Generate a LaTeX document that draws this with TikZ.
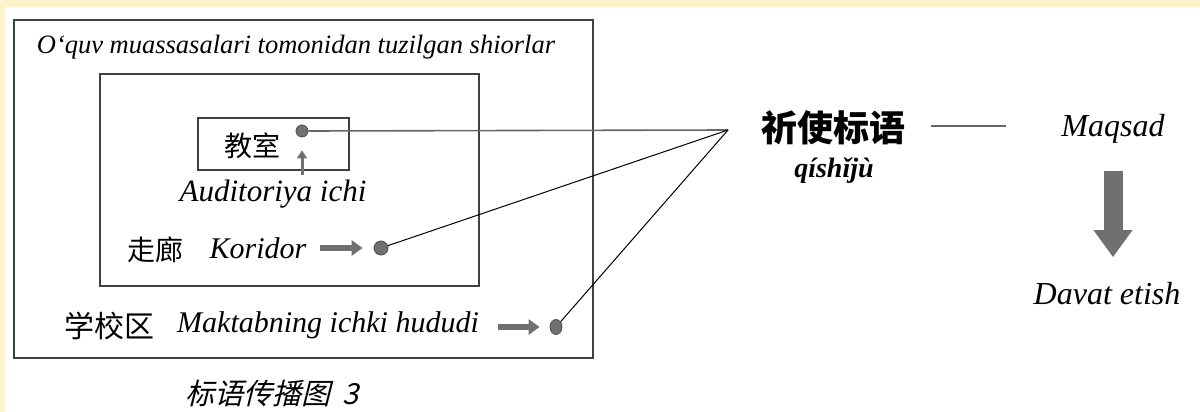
\documentclass[tikz,border=0pt]{standalone}
\usepackage{fontspec}
\setmainfont{Liberation Serif}
\newfontfamily\cjk{Noto Sans CJK SC}
\newfontfamily\cjkslant[FakeSlant=0.25]{Noto Sans CJK SC}
\usetikzlibrary{arrows.meta,shapes.geometric}
\definecolor{cream}{HTML}{FFF2CC}
\definecolor{arrowgray}{HTML}{707070}
\newcommand{\fs}[1]{\fontsize{#1}{#1}\selectfont}

\begin{document}
\begin{tikzpicture}[x=1pt,y=-1pt,>=stealth,
  dot/.style={circle,fill=arrowgray,draw=black!70,line width=0.8pt,minimum size=12pt,inner sep=0pt},
  fatarrow/.style={arrowgray,line width=6pt,-{Triangle[length=11pt,width=15pt]}},
  uz/.style={font=\fs{30}\itshape},
  zh/.style={font=\fs{28}\cjk}]
  \useasboundingbox (0,0) rectangle (1200,412);
  \fill[white] (0,0) rectangle (1200,412);
  \fill[cream] (0,0) rectangle (1200,7);
  \fill[cream] (0,0) rectangle (5,412);
  % boxes
  \draw[black!75,line width=2pt] (14,20) rectangle (593,358);
  \draw[black!75,line width=1.6pt] (100,74) rectangle (479,286);
  \draw[black!75,line width=1.6pt] (198,118) rectangle (349,170);
  \node (title) at (296,47) {\fs{26.5}\itshape O‘quv muassasalari tomonidan tuzilgan shiorlar};
  % classroom
  \node[zh] (jiaoshi) at (252,146) {教室};
  \node[dot] (dot1) at (302,131) {};
  \node[uz,font=\fs{31}\itshape] (auditoriya) at (273,194) {Auditoriya ichi};
  \draw[arrowgray,line width=3pt,-{Triangle[length=8pt,width=10pt]},shorten <=1pt,shorten >=13pt]
    (auditoriya.north -| dot1) -- (dot1);
  % corridor
  \node[zh] (zoulang) at (155,250) {走廊};
  \node[uz] (koridor) at (258,248) {Koridor};
  \node[dot,minimum size=14pt] (dot2) at (381,248) {};
  \draw[fatarrow,shorten <=10pt,shorten >=11pt] (koridor.east |- dot2) -- (dot2.west);
  % school area
  \node[zh,font=\fs{30}\cjk] (xuexiao) at (109,326) {学校区};
  \node[uz] (maktab) at (328,325) {Maktabning ichki hududi};
  \node[dot,ellipse,minimum width=12pt,minimum height=15pt] (dot3) at (556,327) {};
  \draw[fatarrow,shorten <=16pt,shorten >=10pt] (maktab.east |- dot3) -- (dot3.west);
  % lines to slogan
  \coordinate (apex) at (728,130);
  \draw[black!60,line width=1.6pt] (dot1.east) -- (apex);
  \draw[black,line width=1pt] (dot2) -- (apex);
  \draw[black,line width=1pt] (dot3) -- (apex);
  % right side
  \node[font=\fs{36}\cjk\bfseries] (biaoyu) at (833,128) {祈使标语};
  \node[font=\fs{28}\bfseries\itshape] (qishiju) at (834,171) {qíshǐjù};
  \node[font=\fs{32}\itshape] (maqsad) at (1113,129) {Maqsad};
  \node[font=\fs{32}\itshape] (davat) at (1107,294) {Davat etish};
  \draw[black!60,line width=1.2pt,shorten <=22pt,shorten >=52pt]
    ([yshift=2pt]biaoyu.east) -- ([yshift=2pt]biaoyu.east -| maqsad.west);
  \draw[arrowgray,line width=19pt,-{Triangle[length=27pt,width=37pt]},shorten <=24pt,shorten >=22pt]
    (maqsad.south) -- (maqsad.south |- davat.north);
  % caption
  \node[font=\fs{29}\cjkslant] (caption) at (272,393) {标语传播图\hspace{12pt}\itshape 3};
\end{tikzpicture}
\end{document}
